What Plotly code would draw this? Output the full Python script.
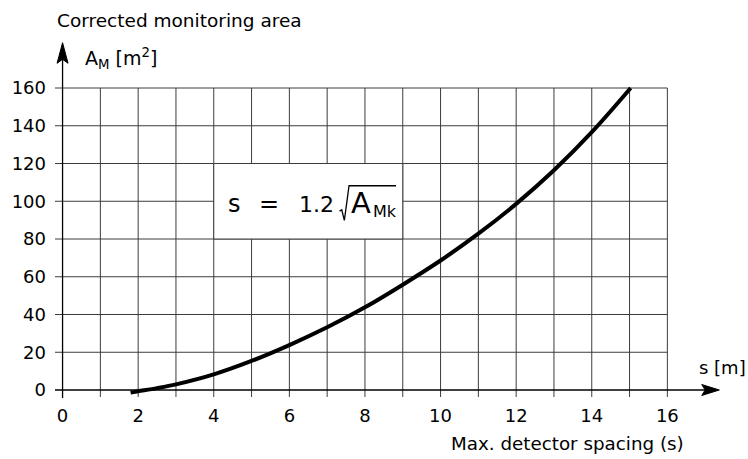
import plotly.graph_objects as go

# Max. detector spacing s [m] vs corrected monitoring area A_M [m^2]
spacing_m = [1.80, 2.0, 2.5, 3.0, 4.0, 5.0, 6.0, 7.0, 8.0, 9.0, 10.0, 11.0, 12.0, 13.0, 14.0, 15.03]
area_m2 = [-1.4, -0.7, 1.0, 3.0, 8.3, 15.4, 23.8, 33.2, 43.8, 55.8, 68.6, 82.8, 98.6, 116.4, 136.6, 160.0]

x_ticks = list(range(0, 17, 2))
x_grid = list(range(0, 17))
y_ticks = list(range(0, 161, 20))

FONT = "DejaVu Sans, Liberation Sans, Arial, sans-serif"
GRID = "#3c3c3c"
W, H = 748, 459
ML, MR, MT, MB = 55, 20, 31, 58
PX_X = 37.8      # pixels per metre on the x axis
PX_Y = 1.8875    # pixels per m^2 on the y axis
x0 = -0.2
x1 = x0 + (W - ML - MR) / PX_X
y0 = -11 / PX_Y
y1 = y0 + (H - MT - MB) / PX_Y


def px(x):
    """x in axis units -> paper fraction (for labels outside the axis range)."""
    return (x - x0) / (x1 - x0)


def py(y):
    return (y - y0) / (y1 - y0)


fig = go.Figure()

shapes = []
# vertical grid lines with short stubs below the baseline
for gx in x_grid[1:]:
    shapes.append(dict(type="line", xref="x", yref="y", x0=gx, x1=gx, y0=-3.7, y1=160,
                       line=dict(color=GRID, width=1), layer="below"))
# horizontal grid lines with short stubs left of the y axis
for gy in y_ticks[1:]:
    shapes.append(dict(type="line", xref="x", yref="y", x0=-0.2, x1=16, y0=gy, y1=gy,
                       line=dict(color=GRID, width=1), layer="below"))
# white panel holding the formula
shapes.append(dict(type="rect", xref="x", yref="y", x0=4, x1=9, y0=80, y1=120,
                   fillcolor="white", line=dict(color=GRID, width=1), layer="below"))
# axis lines
shapes.append(dict(type="line", xref="x", yref="y", x0=-0.2, x1=17.1, y0=0, y1=0,
                   line=dict(color="black", width=1.3), layer="below"))
shapes.append(dict(type="line", xref="x", yref="y", x0=0, x1=0, y0=-4.2, y1=180,
                   line=dict(color="black", width=1.3), layer="below"))
# arrow heads
shapes.append(dict(type="path", xref="x", yref="y",
                   path="M 17.375 0 L 16.91 2.9 L 17.0 0 L 16.91 -2.9 Z",
                   fillcolor="black", line=dict(color="black", width=1), layer="above"))
shapes.append(dict(type="path", xref="x", yref="y",
                   path="M 0 184.0 L -0.145 173.1 L 0 175.2 L 0.145 173.1 Z",
                   fillcolor="black", line=dict(color="black", width=1), layer="above"))
# radical sign of the formula
shapes.append(dict(type="path", xref="x", yref="y",
                   path="M 7.328 94.8 L 7.386 95.5 L 7.455 89.9 L 7.579 108.2 L 8.823 108.2",
                   line=dict(color="black", width=1.3), layer="above"))

fig.add_trace(go.Scatter(
    x=spacing_m, y=area_m2, mode="lines",
    line=dict(color="black", width=4, shape="spline", smoothing=1.0),
    hoverinfo="skip", showlegend=False,
))

ann = [
    dict(text="Corrected monitoring area", x=px(-0.2), y=py(195.5), xref="paper", yref="paper",
         xanchor="left", yanchor="middle", font=dict(size=18.5)),
    dict(text="A<sub>M</sub> [m<sup>2</sup>]", x=0.54, y=175.5, xref="x", yref="y",
         xanchor="left", yanchor="middle", font=dict(size=19)),
    dict(text="s [m]", x=17.47, y=11.7, xref="x", yref="y",
         xanchor="center", yanchor="middle", font=dict(size=18)),
    dict(text="Max. detector spacing (s)", x=px(13.35), y=py(-28.1), xref="paper", yref="paper",
         xanchor="center", yanchor="middle", font=dict(size=18.3)),
    dict(text="s", x=4.56, y=98.5, xref="x", yref="y",
         xanchor="center", yanchor="middle", font=dict(size=24)),
    dict(text="=", x=5.47, y=98.5, xref="x", yref="y",
         xanchor="center", yanchor="middle", font=dict(size=24)),
    dict(text="1.2", x=6.72, y=98.5, xref="x", yref="y",
         xanchor="center", yanchor="middle", font=dict(size=22)),
    dict(text="A", x=7.90, y=99.0, xref="x", yref="y",
         xanchor="center", yanchor="middle", font=dict(size=29)),
    dict(text="Mk", x=8.53, y=94.5, xref="x", yref="y",
         xanchor="center", yanchor="middle", font=dict(size=16)),
]
for a in ann:
    a.update(showarrow=False)
    a["font"].update(family=FONT, color="black")

fig.update_layout(
    width=W, height=H,
    margin=dict(l=ML, r=MR, t=MT, b=MB, pad=0),
    paper_bgcolor="white", plot_bgcolor="white",
    shapes=shapes, annotations=ann,
    font=dict(family=FONT, color="black", size=18),
    xaxis=dict(range=[x0, x1], tickvals=x_ticks, ticktext=[str(v) for v in x_ticks],
               showgrid=False, zeroline=False, showline=False, ticks="",
               tickfont=dict(size=18), ticklabelstandoff=2, fixedrange=True),
    yaxis=dict(range=[y0, y1], tickvals=y_ticks, ticktext=[str(v) for v in y_ticks],
               showgrid=False, zeroline=False, showline=False, ticks="",
               tickfont=dict(size=18), ticklabelstandoff=8, fixedrange=True),
)

fig.write_html("out.html")
